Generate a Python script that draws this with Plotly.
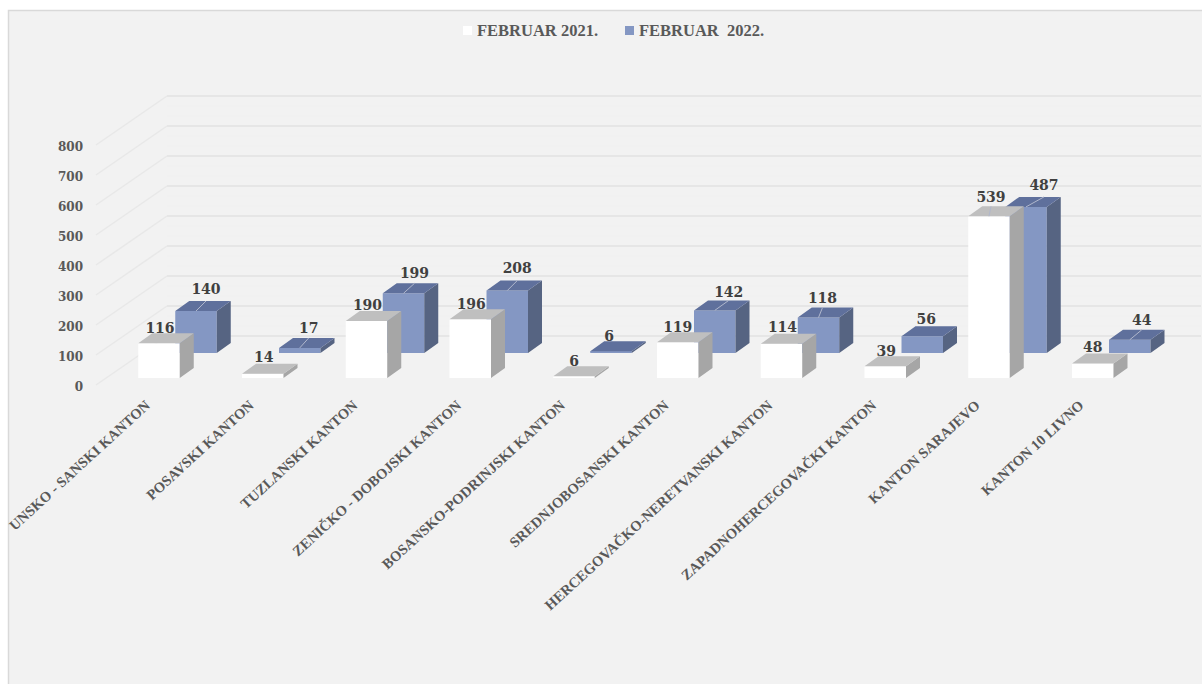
import plotly.graph_objects as go

categories = ["UNSKO - SANSKI KANTON", "POSAVSKI KANTON", "TUZLANSKI KANTON",
              "ZENIČKO - DOBOJSKI KANTON", "BOSANSKO-PODRINJSKI KANTON",
              "SREDNJOBOSANSKI KANTON", "HERCEGOVAČKO-NERETVANSKI KANTON",
              "ZAPADNOHERCEGOVAČKI KANTON", "KANTON SARAJEVO", "KANTON 10 LIVNO"]
feb_2021 = [116, 14, 190, 196, 6, 119, 114, 39, 539, 48]
feb_2022 = [140, 17, 199, 208, 6, 142, 118, 56, 487, 44]
y_ticks = [0, 100, 200, 300, 400, 500, 600, 700, 800]
series_names = ["FEBRUAR 2021.", "FEBRUAR \u00a02022."]

# layout constants (pixels of the 3D-look projection)
W, H = 1202, 684
STEP = 103.75          # px between categories
X0 = 159               # px centre of the first front bar
PXV = 0.3              # px per value unit
BAR_W = 41.5 / STEP
DX, DY = 14 / STEP, 10 / PXV              # bar depth
SER_DX, SER_DY = 37 / STEP, 25 / PXV      # second series shift
FLOOR_PX = 378         # px of value 0 for front bars
LABEL0_PX = 387        # px of value 0 for the axis labels
GRID_SHIFT = 2 / PXV   # front of the grid sits slightly above the label centre

# per-label nudges (px) of the data labels
lab1_dx = [1, 1, 1, 1, 0, 0, 1, 1, 2, 0]
lab1_dy = [14, 15, 15, 14, 14, 14, 15, 14, 18, 15]
lab2_dx = [10, 9, 11, 10, -2, 14, 4, 4, 18, 12]
lab2_dy = [21, 18, 19, 21, 14, 17, 18, 16, 20, 18]
lab2_leader = [1, 1, 1, 1, 0, 1, 1, 0, 1, 1]

def xpx(p):
    return (p - X0) / STEP

idx = list(range(len(categories)))
xr = [xpx(0), xpx(W)]
yr_grid = [-(H - LABEL0_PX) / PXV, LABEL0_PX / PXV]
yr_bars = [-(H - FLOOR_PX) / PXV, FLOOR_PX / PXV]

def prism(xs, tops, bases, part):
    px, py = [], []
    for x, t, b in zip(xs, tops, bases):
        l, r = x - BAR_W / 2, x + BAR_W / 2
        if part == "side":
            px += [r, r + DX, r + DX, r, None]
            py += [b, b + DY, t + DY, t, None]
        else:
            px += [l, r, r + DX, l + DX, None]
            py += [t, t, t + DY, t + DY, None]
    return px, py

fig = go.Figure()

# grid: back wall and left wall
BACK = (385 - 336) / PXV
wx, wy, hx, hy, mx, my = [], [], [], [], [], []
for v in y_ticks:
    g = v + GRID_SHIFT
    wx += [xpx(96), xpx(167), None]
    wy += [g, g + BACK, None]
    hx += [xpx(167), xpx(1201), None]
    hy += [g + BACK, g + BACK, None]
    if v < y_ticks[-1]:
        for f in (1 / 3, 2 / 3):
            mx += [xpx(167), xpx(1201), None]
            my += [g + BACK + 100 * f, g + BACK + 100 * f, None]
common = dict(mode="lines", showlegend=False, hoverinfo="skip")
fig.add_trace(go.Scatter(x=mx, y=my, line=dict(color="#f0f0f0", width=1), **common))
fig.add_trace(go.Scatter(x=wx, y=wy, line=dict(color="#e8e8e8", width=1.5), **common))
fig.add_trace(go.Scatter(x=hx, y=hy, line=dict(color="#e6e6e6", width=2), **common))

# bars
x1 = idx
x2 = [i + SER_DX for i in idx]
base2 = [SER_DY] * len(idx)
base1 = [0] * len(idx)
top1 = feb_2021
top2 = [v + SER_DY for v in feb_2022]

fig.add_trace(go.Bar(x=x2, y=feb_2022, base=base2, width=BAR_W, name=series_names[1],
                     marker=dict(color="#8497c3", line=dict(width=0)), yaxis="y2",
                     showlegend=False))
fig.add_trace(go.Bar(x=x1, y=feb_2021, base=base1, width=BAR_W, name=series_names[0],
                     marker=dict(color="#ffffff", line=dict(width=0)), yaxis="y2",
                     showlegend=False))

poly = dict(mode="lines", fill="toself", showlegend=False, hoverinfo="skip",
            line=dict(width=0), yaxis="y2")
for tops, bases, xs, cs, ct in [(top2, base2, x2, "#566482", "#5f709c"),
                                (top1, base1, x1, "#a6a6a6", "#bfbfbf")]:
    px, py = prism(xs, tops, bases, "side")
    fig.add_trace(go.Scatter(x=px, y=py, fillcolor=cs, **poly))
    px, py = prism(xs, tops, bases, "top")
    fig.add_trace(go.Scatter(x=px, y=py, fillcolor=ct, **poly))

# data labels and their leader lines (across the top face of the bar)
lab_x1 = [x + d / STEP for x, d in zip(x1, lab1_dx)]
lab_y1 = [t + d / PXV for t, d in zip(top1, lab1_dy)]
lab_x2 = [x + d / STEP for x, d in zip(x2, lab2_dx)]
lab_y2 = [t + d / PXV for t, d in zip(top2, lab2_dy)]

lx, ly = [], []
for x, t, xl, show in zip(x2, top2, lab_x2, lab2_leader):
    if show:
        lx += [x, xl, None]
        ly += [t, t + DY, None]
lx += [x1[8], lab_x1[8], None]
ly += [top1[8], top1[8] + DY, None]
fig.add_trace(go.Scatter(x=lx, y=ly, mode="lines", showlegend=False, hoverinfo="skip",
                         line=dict(color="#b0b7cc", width=1), yaxis="y2"))

lab_font = dict(family="DejaVu Serif", size=14, color="#404040", weight=700)
for xs, ys, vals in [(lab_x1, lab_y1, feb_2021), (lab_x2, lab_y2, feb_2022)]:
    fig.add_trace(go.Scatter(x=xs, y=ys, text=[str(v) for v in vals], mode="text",
                             textposition="middle center", textfont=lab_font,
                             showlegend=False, hoverinfo="skip", yaxis="y2"))

leg_font = dict(family="Liberation Serif", size=16.5, color="#595959", weight=700)
legend_items = [(463, 476, "#ffffff", series_names[0]), (625, 638, "#8497c3", series_names[1])]
shapes = [dict(type="rect", xref="paper", yref="paper", x0=8.5 / W, x1=1.01,
               y0=-0.01, y1=1 - 10.5 / H, fillcolor="#f2f2f2",
               line=dict(color="#d9d9d9", width=1.5), layer="below")]
annotations = []
for sx, tx, col, name in legend_items:
    shapes.append(dict(type="rect", xref="paper", yref="paper", x0=sx / W, x1=(sx + 9) / W,
                       y0=1 - 35 / H, y1=1 - 26 / H, fillcolor=col, line=dict(width=0)))
    annotations.append(dict(xref="paper", yref="paper", x=tx / W, y=1 - 31 / H,
                            xanchor="left", yanchor="middle", text=name, showarrow=False,
                            font=leg_font, borderpad=0))

fig.update_layout(
    width=W, height=H,
    margin=dict(l=0, r=0, t=0, b=0, pad=0),
    paper_bgcolor="#ffffff",
    plot_bgcolor="rgba(0,0,0,0)",
    barmode="overlay",
    showlegend=False,
    xaxis=dict(range=xr, domain=[0, 1], anchor="free", position=1 - 393 / H,
               tickmode="array", tickvals=[i - 0.125 for i in idx], ticktext=categories,
               tickangle=-42.5, showgrid=False, zeroline=False, showline=False, ticks="",
               tickfont=dict(family="Liberation Serif", size=14.5, color="#595959", weight=700)),
    yaxis=dict(range=yr_grid, domain=[0, 1], anchor="free", position=83 / W,
               tickmode="array", tickvals=y_ticks, showgrid=False, zeroline=False,
               showline=False, ticks="",
               tickfont=dict(family="DejaVu Serif", size=12, color="#595959", weight=700)),
    yaxis2=dict(range=yr_bars, domain=[0, 1], overlaying="y", visible=False),
    shapes=shapes,
    annotations=annotations,
)
fig.write_html("out.html", config=dict(displayModeBar=False),
               post_script="document.body.style.margin='0';document.body.style.overflow='hidden';")
